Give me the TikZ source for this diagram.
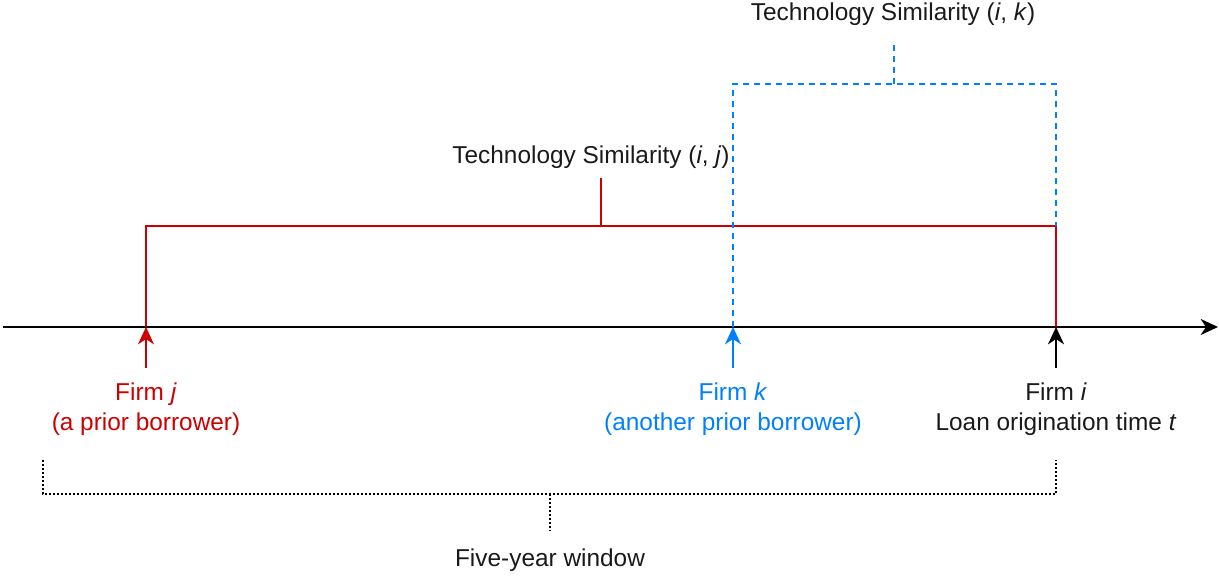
\documentclass[tikz,border=0pt]{standalone}
\usepackage{fontspec}
\setmainfont{Liberation Sans}
\usetikzlibrary{arrows.meta}
\definecolor{fred}{HTML}{CC0000}
\definecolor{fblue}{HTML}{007FFF}
\definecolor{ftext}{HTML}{1A1A1A}
\begin{document}
\begin{tikzpicture}[x=0.75pt,y=-0.75pt,
  lbl/.style={font=\fontsize{18.3pt}{22.5pt}\selectfont, text=ftext, inner sep=0pt, align=center},
  tip/.style={-{Stealth[length=13pt,width=12pt,inset=4pt]}},
  ln/.style={line width=1.5pt},
  bdash/.style={dash pattern=on 4.5pt off 3.75pt}]
\useasboundingbox (0,0) rectangle (1219,576);
% coordinates
\coordinate (axL) at (3,327);
\coordinate (axR) at (1218,327);
\coordinate (j0) at (146,368); \coordinate (j1) at (146,327);
\coordinate (k0) at (733,368); \coordinate (k1) at (733,327);
\coordinate (i0) at (1056,368); \coordinate (i1) at (1056,327);
\coordinate (rTL) at (146,226); \coordinate (rTR) at (1056,226);
\coordinate (rS0) at (601,226); \coordinate (rS1) at (601,178);
\coordinate (bTL) at (733,84); \coordinate (bTR) at (1056,84);
\coordinate (bR) at (1056,226);
\coordinate (bS0) at (894,84); \coordinate (bS1) at (894,45);
\coordinate (dL0) at (43,460); \coordinate (dBL) at (43,494);
\coordinate (dBR) at (1056,494); \coordinate (dR0) at (1056,460);
\coordinate (dS0) at (550,494); \coordinate (dS1) at (550,531);
% axis
\draw[ln, black, tip] (axL) -- (axR);
% red bracket
\draw[ln, fred] (j1) -- (rTL) -- (rTR) -- (i1);
\draw[ln, fred] (rS0) -- (rS1);
% blue dashed bracket
\draw[ln, fblue, bdash] (k1) -- (bTL) -- (bTR) -- (bR);
\draw[ln, fblue, bdash] (bS0) -- (bS1);
% arrows
\draw[ln, fred, tip] (j0) -- (j1);
\draw[ln, fblue, tip] (k0) -- (k1);
\draw[ln, black, tip] (i0) -- (i1);
% dotted bracket
\draw[line width=1.5pt, black, dash pattern=on 1.5pt off 1.5pt] (dL0) -- (dBL) -- (dBR) -- (dR0);
\draw[line width=1.5pt, black, dash pattern=on 1.5pt off 1.5pt] (dS0) -- (dS1);
% labels
\node[lbl] (tsij) at (591,157) {Technology Similarity (\textit{i}, \textit{j})};
\node[lbl] (tsik) at (893,14) {Technology Similarity (\textit{i}, \textit{k})};
\node[lbl, text=fred] (fj) at (146,409) {Firm \textit{j}\\(a prior borrower)};
\node[lbl, text=fblue] (fk) at (733,409) {Firm \textit{k}\\(another prior borrower)};
\node[lbl] (fi) at (1056,409) {Firm \textit{i}\\Loan origination time \textit{t}};
\node[lbl] (fy) at (550,560) {Five-year window};
\end{tikzpicture}
\end{document}
